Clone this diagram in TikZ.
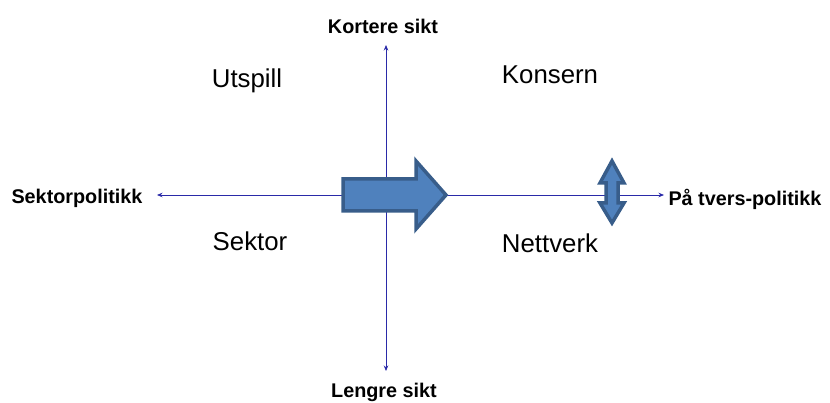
\documentclass[tikz,border=0pt]{standalone}
\usepackage{fontspec}
\setmainfont{Liberation Sans}
\usetikzlibrary{arrows.meta}
\definecolor{axisblue}{HTML}{2A2AA8}
\definecolor{arrowfill}{HTML}{4F81BD}
\definecolor{arrowedge}{HTML}{385D8A}
\tikzset{
  axis/.style={draw=axisblue, line width=0.7pt, -{Stealth[length=5.5pt,width=4.5pt]}},
  pole/.style={font=\bfseries\fontsize{19.8}{21}\selectfont, text=black, inner sep=0pt},
  quad/.style={font=\fontsize{25.8}{28}\selectfont, text=black, inner sep=0pt},
  blockarrow/.style={fill=arrowfill, draw=arrowedge, line width=3.5pt, line join=miter},
}
\begin{document}
\begin{tikzpicture}[x=1pt,y=-1pt]
  \useasboundingbox (0,0) rectangle (830,403);
  % axes
  \coordinate (c) at (386,195);
  \coordinate (top) at (386,45);
  \coordinate (bottom) at (386,371);
  \coordinate (left) at (157,195);
  \coordinate (right) at (664,195);
  \draw[axis] (c) -- (top);
  \draw[axis] (c) -- (bottom);
  \draw[axis] (c) -- (left);
  \draw[axis] (c) -- (right);
  % pole labels
  \node[pole] (kort) at (383,26) {Kortere sikt};
  \node[pole] (lang) at (384,392) {Lengre sikt};
  \node[pole] (sektp) at (77,198) {Sektorpolitikk};
  \node[pole] (tvers) at (745,199) {På tvers-politikk};
  % quadrant labels
  \node[quad] (utspill) at (247,81) {Utspill};
  \node[quad] (konsern) at (550,75) {Konsern};
  \node[quad] (sektor) at (250,241) {Sektor};
  \node[quad] (nettverk) at (550,243) {Nettverk};
  % movement arrow
  \path[blockarrow] (343,179) -- (416,179) -- (416,161) -- (446,195)
    -- (416,229) -- (416,211) -- (343,211) -- cycle;
  % two-way arrow
  \path[blockarrow] (612,161) -- (624,183) -- (618,183) -- (618,203)
    -- (624,203) -- (612,223) -- (600,203) -- (606,203) -- (606,183)
    -- (600,183) -- cycle;
\end{tikzpicture}
\end{document}
